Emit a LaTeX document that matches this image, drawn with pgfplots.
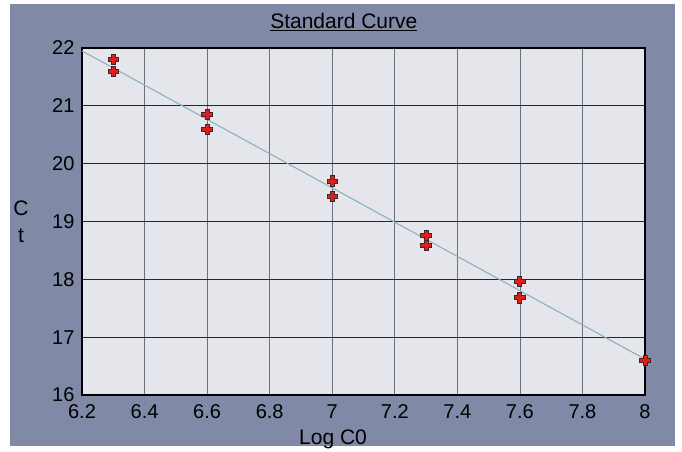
\documentclass[border=0pt]{standalone}
\usepackage{pgfplots}
\pgfplotsset{compat=1.18}
\usepackage{fontspec}
\setmainfont{Liberation Sans}
\definecolor{bgblue}{RGB}{128,137,166}
\definecolor{plotgray}{RGB}{228,230,235}
\definecolor{vgrid}{RGB}{105,112,128}
\definecolor{fitline}{RGB}{140,178,186}
\definecolor{markred}{RGB}{225,30,30}
\definecolor{markedge}{RGB}{60,40,40}
\pgfdeclareplotmark{fatplus}{%
  \pgfpathmoveto{\pgfqpoint{-0.38\pgfplotmarksize}{\pgfplotmarksize}}%
  \pgfpathlineto{\pgfqpoint{0.38\pgfplotmarksize}{\pgfplotmarksize}}%
  \pgfpathlineto{\pgfqpoint{0.38\pgfplotmarksize}{0.38\pgfplotmarksize}}%
  \pgfpathlineto{\pgfqpoint{\pgfplotmarksize}{0.38\pgfplotmarksize}}%
  \pgfpathlineto{\pgfqpoint{\pgfplotmarksize}{-0.38\pgfplotmarksize}}%
  \pgfpathlineto{\pgfqpoint{0.38\pgfplotmarksize}{-0.38\pgfplotmarksize}}%
  \pgfpathlineto{\pgfqpoint{0.38\pgfplotmarksize}{-\pgfplotmarksize}}%
  \pgfpathlineto{\pgfqpoint{-0.38\pgfplotmarksize}{-\pgfplotmarksize}}%
  \pgfpathlineto{\pgfqpoint{-0.38\pgfplotmarksize}{-0.38\pgfplotmarksize}}%
  \pgfpathlineto{\pgfqpoint{-\pgfplotmarksize}{-0.38\pgfplotmarksize}}%
  \pgfpathlineto{\pgfqpoint{-\pgfplotmarksize}{0.38\pgfplotmarksize}}%
  \pgfpathlineto{\pgfqpoint{-0.38\pgfplotmarksize}{0.38\pgfplotmarksize}}%
  \pgfpathclose
  \pgfusepathqfillstroke}
\begin{document}
\begin{tikzpicture}
\fill[white] (0,0) rectangle (682pt,449pt);
\fill[bgblue] (10pt,3pt) rectangle (675pt,445pt);
\begin{axis}[
  at={(82pt,54pt)}, anchor=south west,
  scale only axis, width=563pt, height=347pt,
  xmin=6.2, xmax=8, ymin=16, ymax=22,
  xtick={6.2,6.4,...,8.01}, ytick={16,17,...,22},
  xticklabels={6.2,6.4,6.6,6.8,7,7.2,7.4,7.6,7.8,8},
  major tick length=0pt,
  axis background/.style={fill=plotgray},
  axis line style={line width=1.6pt, black},
  xmajorgrids, ymajorgrids,
  x grid style={vgrid, line width=0.6pt},
  y grid style={black!85, line width=1.3pt},
  tick label style={font=\fontsize{20}{24}\selectfont},
  /pgf/number format/assume math mode=true,
  xticklabel style={yshift=-6pt},
  yticklabel style={xshift=-4pt},
  title={\underline{Standard Curve}},
  title style={font=\fontsize{21}{25}\selectfont, at={(rel axis cs:0.465,1)}, anchor=south, yshift=8pt},
  xlabel={Log C0},
  xlabel style={font=\fontsize{21}{25}\selectfont, at={(rel axis cs:0.446,0)}, anchor=north, yshift=-31pt},
  ylabel={C\\[2pt]t},
  ylabel style={font=\fontsize{21}{25}\selectfont, align=center, rotate=-90, at={(rel axis cs:0,0.5)}, anchor=center, xshift=-61pt},
  clip=false,
]
\addplot[fitline, line width=1.1pt, forget plot] coordinates {(6.2,21.95) (8,16.62)};
\addplot[only marks, mark=fatplus, mark size=5.2pt, mark options={fill=markred, draw=markedge, line width=0.9pt}]
  coordinates {
  (6.3,21.80) (6.3,21.59)
  (6.6,20.85) (6.6,20.59)
  (7.0,19.70) (7.0,19.43)
  (7.3,18.76) (7.3,18.59)
  (7.6,17.96) (7.6,17.68)
  (8.0,16.60)
  };
\end{axis}
\end{tikzpicture}
\end{document}
